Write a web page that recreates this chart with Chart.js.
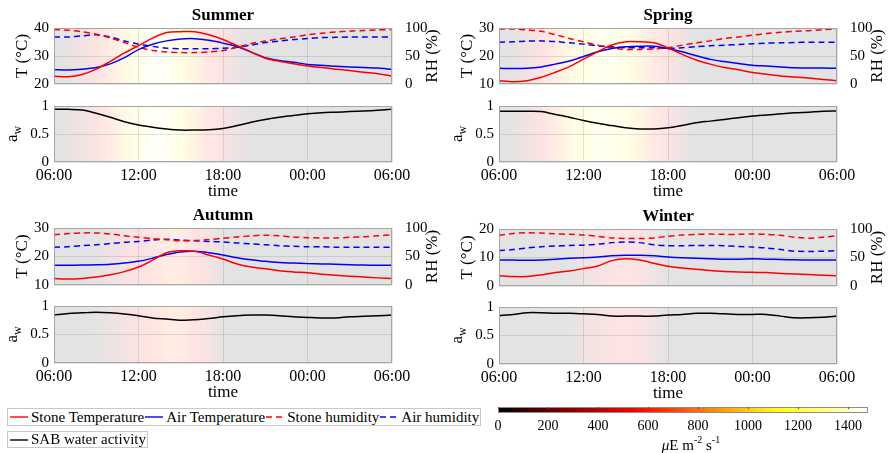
<!DOCTYPE html>
<html>
<head>
<meta charset="utf-8">
<script src="https://cdn.jsdelivr.net/npm/chart.js@4.4.1/dist/chart.umd.min.js"></script>
<style>
  body { margin: 0; width: 888px; height: 453px; background: #fff; position: relative; overflow: hidden;
         font-family: 'Liberation Serif', 'Times New Roman', serif; }
  canvas { position: absolute; }
  .legend { position: absolute; left: 7px; box-sizing: border-box; border: 1px solid #c9c9c9; background: #fff;
            display: flex; align-items: center; padding: 0 1px 0 1px; font-size: 15px; color: #000; white-space: nowrap;
            font-family: 'Liberation Serif', 'Times New Roman', serif; }
  .legend svg { display: block; flex: none; }
</style>
</head>
<body>
<script>
// hours after 06:00, one reading per hour over one day
const hours = [0,1,2,3,4,5,6,7,8,9,10,11,12,13,14,15,16,17,18,19,20,21,22,23,24];
const timeTicks = [0, 6, 12, 18, 24];
const timeLabels = ['06:00', '12:00', '18:00', '00:00', '06:00'];

const seasons = ['Summer', 'Spring', 'Autumn', 'Winter'];
const tempMin = [20, 10, 10, 0];
const tempMax = [40, 30, 30, 20];

const summerStoneT  = [22.8,22.6,23.4,25.3,28.1,31.1,33.7,36.4,38.4,38.7,38.7,37.6,35.9,33.7,31.4,29.2,28.1,27.2,26.4,25.9,25.3,24.8,24.2,23.7,22.8];
const summerAirT    = [25.1,25.0,25.3,25.9,27.2,29.4,32.3,34.2,35.4,36.1,36.2,35.6,34.6,33.4,31.4,29.4,28.4,27.8,27.0,26.7,26.3,26.1,25.9,25.7,25.2];
const summerStoneRH = [97.2,96.1,93.3,88.9,82.2,73.9,65.6,60.0,57.2,56.1,56.1,57.2,60.0,65.6,72.2,76.7,80.6,83.9,87.8,90.6,92.8,94.4,95.6,96.7,97.2];
const summerAirRH   = [83.9,83.9,86.1,87.8,83.9,76.7,71.1,67.2,63.9,62.8,62.8,62.8,63.9,65.6,69.4,73.9,76.7,79.4,81.1,82.8,83.3,83.9,83.9,83.9,83.9];
const summerAw      = [0.94,0.94,0.93,0.87,0.80,0.72,0.66,0.62,0.59,0.57,0.57,0.575,0.60,0.65,0.71,0.76,0.80,0.83,0.86,0.88,0.89,0.90,0.91,0.925,0.94];
const summerLight   = [0,80,300,500,750,1000,1200,1400,1350,1150,900,650,450,200,0,0,0,0,0,0,0,0,0,0,0];

const springStoneT  = [11.2,10.8,11.2,12.4,14.2,16.2,18.9,21.5,23.9,25.1,25.1,24.7,22.9,20.6,18.6,17.1,15.9,15.1,14.1,13.5,12.9,12.5,12.1,11.6,11.2];
const springAirT    = [15.6,15.5,15.6,16.1,17.1,18.2,19.8,21.5,22.7,23.3,23.5,23.5,22.7,21.5,20.1,18.8,18.0,17.3,16.7,16.4,16.1,15.8,15.7,15.7,15.6];
const springStoneRH = [98.2,98.2,96.5,94.1,88.2,81.2,75.3,69.4,64.7,61.8,61.8,62.4,64.7,69.4,73.5,77.0,81.2,84.1,87.1,90.0,92.4,94.1,95.3,97.0,98.2];
const springAirRH   = [74.7,75.3,76.5,77.0,75.9,73.5,71.2,68.2,66.5,64.7,64.7,64.7,63.5,64.7,66.5,68.2,69.4,70.6,71.8,72.9,73.5,74.1,74.7,74.7,74.7];
const springAw      = [0.905,0.905,0.905,0.90,0.85,0.80,0.74,0.69,0.65,0.61,0.59,0.59,0.61,0.65,0.70,0.73,0.76,0.79,0.82,0.84,0.86,0.88,0.89,0.905,0.91];
const springLight   = [0,80,300,500,750,1000,1150,1250,1250,1150,950,700,500,250,0,0,0,0,0,0,0,0,0,0,0];

const autumnStoneT  = [12.3,12.1,12.3,12.8,13.6,14.7,16.3,18.7,21.3,22.0,21.8,20.5,19.1,17.4,16.3,15.7,15.0,14.6,14.3,13.8,13.4,13.1,12.8,12.5,12.3];
const autumnAirT    = [16.9,16.9,17.0,17.1,17.3,17.7,18.3,19.4,20.7,21.6,21.8,21.3,20.5,19.6,18.9,18.3,17.9,17.7,17.5,17.4,17.3,17.1,17.0,16.9,16.9];
const autumnStoneRH = [88.0,90.2,91.3,91.3,89.6,86.3,83.6,81.4,79.2,77.6,78.1,79.8,82.0,84.2,86.3,87.4,86.3,84.2,83.1,82.5,82.5,83.6,84.7,86.3,88.0];
const autumnAirRH   = [66.1,67.2,68.9,70.5,72.7,74.9,76.5,78.7,80.3,78.7,77.6,76.5,75.4,73.8,72.1,70.5,68.9,67.8,67.2,67.2,66.1,66.1,66.1,66.1,66.1];
const autumnAw      = [0.84,0.87,0.88,0.89,0.88,0.86,0.83,0.79,0.77,0.75,0.76,0.78,0.81,0.83,0.84,0.84,0.83,0.81,0.80,0.79,0.79,0.81,0.82,0.83,0.84];
const autumnLight   = [0,0,0,50,200,350,500,600,750,750,550,400,50,0,0,0,0,0,0,0,0,0,0,0,0];

const winterStoneT  = [3.6,3.3,3.3,3.9,4.7,5.3,6.1,7.0,8.9,9.6,9.1,8.0,6.9,6.3,5.9,5.4,5.1,4.9,4.8,4.7,4.4,4.2,4.0,3.8,3.6];
const winterAirT    = [9.1,9.1,9.0,9.1,9.4,9.7,9.9,10.2,10.6,10.8,10.8,10.6,10.2,9.9,9.7,9.6,9.4,9.4,9.6,9.4,9.3,9.2,9.1,9.1,9.1];
const winterStoneRH = [88.9,92.2,93.3,92.8,91.7,90.6,89.4,87.2,84.4,83.3,83.3,84.4,87.2,89.4,90.6,91.1,90.6,90.6,91.1,90.6,88.9,85.6,83.9,85.6,88.3];
const winterAirRH   = [62.2,63.9,66.7,68.9,70.0,71.1,71.7,73.3,76.1,77.2,76.1,72.2,70.6,70.6,71.1,71.1,70.6,69.4,68.3,66.7,63.9,61.1,60.6,61.1,62.2];
const winterAw      = [0.85,0.87,0.90,0.90,0.89,0.89,0.88,0.87,0.84,0.84,0.84,0.84,0.86,0.87,0.89,0.89,0.88,0.87,0.87,0.87,0.84,0.81,0.81,0.82,0.84];
const winterLight   = [0,0,0,0,0,50,250,350,500,550,450,250,50,0,0,0,0,0,0,0,0,0,0,0,0];

const lightTicks = [0, 200, 400, 600, 800, 1000, 1200, 1400];
const lightMax = 1480;

const seriesNames = ['Stone Temperature', 'Air Temperature', 'Stone humidity', 'Air humidity', 'SAB water activity'];

const stoneT = [summerStoneT, springStoneT, autumnStoneT, winterStoneT];
const airT = [summerAirT, springAirT, autumnAirT, winterAirT];
const stoneRH = [summerStoneRH, springStoneRH, autumnStoneRH, winterStoneRH];
const airRH = [summerAirRH, springAirRH, autumnAirRH, winterAirRH];
const waterAct = [summerAw, springAw, autumnAw, winterAw];
const light = [summerLight, springLight, autumnLight, winterLight];

// layout (page pixels of each plot box)
const panelLeft = [54, 499, 54, 499];
const panelTop = [28, 28, 228, 229];
const awTop = [102, 102, 302, 303];
const panelH = [60, 60, 61, 61];
const PW = 338, L = 54;

const RED = '#ff0000', BLUE = '#0000ff', BLACK = '#000000';
const GRID = 'rgba(0,0,0,0.11)';
const FRAME = '#a6a6a6';
const FONT = "'Liberation Serif', 'Times New Roman', serif";
Chart.defaults.font.family = FONT;
Chart.defaults.color = '#000';

function hot(t) {
  const c = v => Math.max(0, Math.min(1, v));
  return [c(t / 0.375), c((t - 0.375) / 0.375), c((t - 0.75) / 0.25)];
}
function shade(v, alpha) {
  const rgb = hot(v / lightMax);
  const m = k => Math.round(255 * (1 - alpha) + 255 * k * alpha);
  return `rgb(${m(rgb[0])},${m(rgb[1])},${m(rgb[2])})`;
}
const plainNum = v => String(Number(v.toFixed(2)));

// text made of pieces, e.g. subscripts; rotated bottom-to-top when vertical
function drawParts(ctx, parts, cx, cy, vertical) {
  ctx.save();
  ctx.translate(cx, cy);
  if (vertical) ctx.rotate(-Math.PI / 2);
  ctx.textBaseline = 'middle';
  ctx.textAlign = 'left';
  ctx.fillStyle = '#000';
  let total = 0;
  parts.forEach(p => {
    ctx.font = `${p.style || ''} ${p.size}px ${FONT}`;
    p.w = ctx.measureText(p.text).width;
    total += p.w;
  });
  let x0 = -total / 2;
  parts.forEach(p => {
    ctx.font = `${p.style || ''} ${p.size}px ${FONT}`;
    ctx.fillText(p.text, x0, p.dy || 0);
    x0 += p.w;
  });
  ctx.restore();
}

const panelDeco = {
  id: 'panelDeco',
  beforeDraw(chart, args, o) {
    const { ctx, chartArea: a } = chart;
    const x = chart.scales.x;
    const g = ctx.createLinearGradient(a.left, 0, a.right, 0);
    o.light.forEach((v, k) => {
      const t = (x.getPixelForValue(hours[k]) - a.left) / (a.right - a.left);
      g.addColorStop(Math.max(0, Math.min(1, t)), shade(v, 0.11));
    });
    ctx.save();
    ctx.fillStyle = g;
    ctx.fillRect(a.left, a.top, a.right - a.left, a.bottom - a.top);
    ctx.restore();
  },
  afterDraw(chart, args, o) {
    const { ctx, chartArea: a } = chart;
    const cy = (a.top + a.bottom) / 2;
    ctx.save();
    ctx.strokeStyle = FRAME;
    ctx.lineWidth = 1;
    ctx.strokeRect(Math.round(a.left) + 0.5, Math.round(a.top) + 0.5,
                   Math.round(a.right - a.left) - 1, Math.round(a.bottom - a.top) - 1);
    ctx.restore();
    if (o.kind === 'top') {
      drawParts(ctx, [{ text: o.title, size: 17, style: 'bold' }], (a.left + a.right) / 2, a.top - 12, false);
      drawParts(ctx, [{ text: 'T (°C)', size: 17 }], a.left - 31, cy, true);
      drawParts(ctx, [{ text: 'RH (%)', size: 17 }], a.right + 41, cy, true);
    } else {
      drawParts(ctx, [{ text: 'a', size: 17 }, { text: 'w', size: 12, dy: 5 }], a.left - 41, cy, true);
    }
  }
};

function series(values, color, axis, dashed) {
  return {
    data: hours.map((h, k) => ({ x: h, y: values[k] })),
    yAxisID: axis,
    borderColor: color,
    borderWidth: 1.5,
    borderDash: dashed ? [6, 4] : [],
    pointRadius: 0,
    tension: 0.3,
    fill: false
  };
}

function timeScale(showLabels) {
  return {
    type: 'linear', min: 0, max: 24,
    afterFit: s => { s.height = showLabels ? 40 : 0; },
    afterBuildTicks: s => { s.ticks = timeTicks.map(v => ({ value: v })); },
    ticks: { display: showLabels, padding: 4, maxRotation: 0, autoSkip: false, font: { size: 16 },
             callback: (v, k) => timeLabels[k] },
    grid: { color: GRID, drawTicks: false },
    border: { display: false },
    title: { display: showLabels, text: 'time', font: { size: 17 }, padding: 0 }
  };
}

function addCanvas(left, top, w, h) {
  const c = document.createElement('canvas');
  c.width = w; c.height = h;
  c.style.left = left + 'px'; c.style.top = top + 'px';
  c.style.width = w + 'px'; c.style.height = h + 'px';
  document.body.appendChild(c);
  return c;
}

function baseOptions() {
  return { responsive: false, animation: false, devicePixelRatio: 1, events: [] };
}

function topChart(i) {
  const c = addCanvas(panelLeft[i] - L, panelTop[i] - 28, L + PW + L, 28 + panelH[i] + 10);
  return new Chart(c, {
    type: 'line',
    data: { datasets: [
      series(stoneT[i], RED, 'y', false),
      series(airT[i], BLUE, 'y', false),
      series(stoneRH[i], RED, 'y1', true),
      series(airRH[i], BLUE, 'y1', true)
    ] },
    options: Object.assign(baseOptions(), {
      layout: { padding: { top: 28, bottom: 10, left: 0, right: 0 } },
      scales: {
        x: timeScale(false),
        y: { position: 'left', min: tempMin[i], max: tempMax[i],
             afterFit: s => { s.width = L; },
             ticks: { stepSize: 10, padding: 5, font: { size: 15 }, callback: plainNum },
             grid: { color: GRID, drawTicks: false }, border: { display: false } },
        y1: { position: 'right', min: 0, max: 100,
              afterFit: s => { s.width = L; },
              ticks: { stepSize: 50, padding: 5, font: { size: 15 }, callback: plainNum },
              grid: { display: false }, border: { display: false } }
      },
      plugins: { legend: { display: false }, tooltip: { enabled: false },
                 panelDeco: { light: light[i], title: seasons[i], kind: 'top' } }
    }),
    plugins: [panelDeco]
  });
}

function awChart(i) {
  const c = addCanvas(panelLeft[i] - L, awTop[i] - 10, L + PW + 26, 10 + panelH[i] + 40);
  return new Chart(c, {
    type: 'line',
    data: { datasets: [series(waterAct[i], BLACK, 'y', false)] },
    options: Object.assign(baseOptions(), {
      layout: { padding: { top: 10, bottom: 0, left: 0, right: 26 } },
      scales: {
        x: timeScale(true),
        y: { position: 'left', min: 0, max: 1,
             afterFit: s => { s.width = L; },
             ticks: { stepSize: 0.5, padding: 5, font: { size: 15 }, callback: plainNum },
             grid: { color: GRID, drawTicks: false }, border: { display: false } }
      },
      plugins: { legend: { display: false }, tooltip: { enabled: false },
                 panelDeco: { light: light[i], kind: 'aw' } }
    }),
    plugins: [panelDeco]
  });
}

seasons.forEach((s, i) => { topChart(i); awChart(i); });

// colour bar for light intensity
const colorbarDeco = {
  id: 'colorbarDeco',
  beforeDraw(chart) {
    const { ctx, chartArea: a } = chart;
    const x = chart.scales.x;
    const g = ctx.createLinearGradient(a.left, 0, a.right, 0);
    [0, 0.375, 0.75, 1].forEach(t => g.addColorStop(t, shade(t * lightMax, 1)));
    ctx.save();
    ctx.fillStyle = g;
    ctx.fillRect(a.left, a.top, a.right - a.left, a.bottom - a.top);
    ctx.strokeStyle = '#8c8c8c';
    ctx.lineWidth = 1;
    ctx.strokeRect(a.left + 0.5, a.top + 0.5, a.right - a.left - 1, a.bottom - a.top - 1);
    ctx.strokeStyle = '#555';
    lightTicks.forEach(v => {
      const px = Math.round(x.getPixelForValue(v)) + 0.5;
      ctx.beginPath(); ctx.moveTo(px, a.top); ctx.lineTo(px, a.top + 2); ctx.stroke();
    });
    ctx.restore();
    drawParts(ctx, [
      { text: 'μ', size: 15, style: 'italic' }, { text: 'E m', size: 15 },
      { text: '-2', size: 10, dy: -6 }, { text: ' s', size: 15 }, { text: '-1', size: 10, dy: -6 }
    ], (a.left + a.right) / 2 + 8, a.bottom + 33, false);
  }
};

const cb = addCanvas(498 - 28, 402, 28 + 370 + 20, 51);
new Chart(cb, {
  type: 'line',
  data: { datasets: [] },
  options: Object.assign(baseOptions(), {
    layout: { padding: { top: 5, bottom: 0, left: 28, right: 20 } },
    scales: {
      x: { type: 'linear', min: 0, max: lightMax,
           afterFit: s => { s.height = 40; },
           afterBuildTicks: s => { s.ticks = lightTicks.map(v => ({ value: v })); },
           ticks: { padding: 5, maxRotation: 0, autoSkip: false, font: { size: 14 }, callback: v => String(v) },
           grid: { display: false, drawTicks: false }, border: { display: false } },
      y: { display: false, min: 0, max: 1 }
    },
    plugins: { legend: { display: false }, tooltip: { enabled: false } }
  }),
  plugins: [colorbarDeco]
});

// legend boxes
const legendColors = [RED, BLUE, RED, BLUE, BLACK];
const legendDashed = [false, false, true, true, false];
const legendRows = [[0, 1, 2, 3], [4]];
const legendTops = [408, 431];
const legendHeights = [18, 17];
legendRows.forEach((row, r) => {
  const box = document.createElement('div');
  box.className = 'legend';
  box.style.top = legendTops[r] + 'px';
  box.style.height = legendHeights[r] + 'px';
  row.forEach(k => {
    const dash = legendDashed[k] ? ' stroke-dasharray="6,4"' : '';
    box.insertAdjacentHTML('beforeend',
      `<svg width="22" height="12"><line x1="1" y1="6" x2="19" y2="6" stroke="${legendColors[k]}" stroke-width="1.4"${dash}/></svg>` +
      `<span>${seriesNames[k]}</span>`);
  });
  document.body.appendChild(box);
});
</script>
</body>
</html>
